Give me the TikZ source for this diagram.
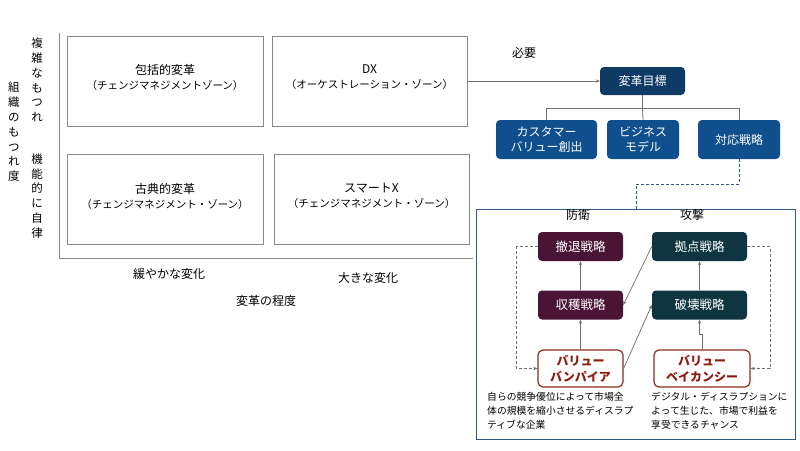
\documentclass[tikz,border=0pt]{standalone}
\usepackage{fontspec}
\setmainfont{Noto Sans CJK JP}
\usetikzlibrary{arrows.meta}
\definecolor{navyG}{HTML}{0D3B66}
\definecolor{blueB}{HTML}{0F4F8E}
\definecolor{maroonB}{HTML}{4A1434}
\definecolor{tealB}{HTML}{0E3540}
\definecolor{redB}{HTML}{8B2A1C}
\definecolor{redT}{HTML}{8E1B10}
\definecolor{panelB}{HTML}{2E5A87}
\definecolor{lineG}{HTML}{8A8A8A}
\definecolor{arrG}{HTML}{6E6E6E}
\newcommand{\zbig}{\fontsize{12}{15}\selectfont}
\begin{document}
\begin{tikzpicture}[x=1pt,y=-1pt,
  zone/.style={draw=lineG,line width=0.8pt,minimum width=196pt,minimum height=90pt,inner sep=0pt},
  ztext/.style={font=\fontsize{10.5}{15}\selectfont,align=center,inner sep=0pt},
  lbl/.style={font=\fontsize{12}{14}\selectfont,inner sep=0pt},
  vlbl/.style={font=\fontsize{11.5}{14.8}\selectfont,align=center,inner sep=0pt},
  goalbox/.style={rounded corners=4pt,fill=navyG,text=white,font=\fontsize{12}{14}\selectfont,align=center,inner sep=0pt,minimum width=85pt,minimum height=28pt},
  subbox/.style={rounded corners=4pt,fill=blueB,text=white,font=\fontsize{12}{15.5}\selectfont,align=center,inner sep=0pt,minimum height=39pt},
  defbox/.style={rounded corners=4pt,fill=maroonB,text=white,font=\fontsize{12.5}{14}\selectfont,inner sep=0pt,minimum width=85pt,minimum height=29pt},
  atkbox/.style={rounded corners=4pt,fill=tealB,text=white,font=\fontsize{12.5}{14}\selectfont,inner sep=0pt,minimum width=95pt,minimum height=29pt},
  valbox/.style={rounded corners=5pt,draw=redB,line width=1.2pt,fill=white,text=redT,font=\bfseries\fontsize{12}{16}\selectfont,align=center,inner sep=0pt,minimum height=37pt},
  desc/.style={font=\fontsize{9.8}{14}\selectfont,align=left,inner sep=0pt,anchor=north west},
  arr/.style={draw=arrG,line width=0.7pt,-{Stealth[length=4pt,width=3.2pt]}},
  darr/.style={draw=arrG,line width=0.7pt,dash pattern=on 3pt off 2pt,-{Stealth[length=4pt,width=3.2pt]}},
  tree/.style={draw=arrG,line width=0.8pt}]
\useasboundingbox (0,0) rectangle (800,450);
% axes
\coordinate (ytop) at (59,33);
\coordinate (orig) at (59,258);
\coordinate (xend) at (473,258);
\draw[lineG,line width=0.8pt] (ytop) -- (orig) -- (xend);
% zones
\node[zone] (b1) at (165,81) {};
\node[zone,minimum width=195pt] (b2) at (369.5,81) {};
\node[zone] (b3) at (165,199.5) {};
\node[zone,minimum width=195pt] (b4) at (371.5,199.5) {};
\node[ztext] (b1t) at (165,77.5) {{\zbig 包括的変革}\\（チェンジマネジメントゾーン）};
\node[ztext] (b2t) at (369.5,77.5) {{\zbig DX}\\（オーケストレーション・ゾーン）};
\node[ztext] (b3t) at (165,196) {{\zbig 古典的変革}\\（チェンジマネジメント・ゾーン）};
\node[ztext] (b4t) at (371.5,196) {{\zbig スマートX}\\（チェンジマネジメント・ゾーン）};
% axis labels
\node[lbl] (xl1) at (169,274) {緩やかな変化};
\node[lbl] (xl2) at (368,278) {大きな変化};
\node[lbl] (xl3) at (266,301) {変革の程度};
\node[vlbl] (yl1) at (37,80) {複\\雑\\な\\も\\つ\\れ};
\node[vlbl] (yl2) at (37,196) {機\\能\\的\\に\\自\\律};
\node[vlbl] (yl3) at (14,132) {組\\織\\の\\も\\つ\\れ\\度};
% right top tree
\node[lbl] (need) at (524,53) {必要};
\node[goalbox] (goal) at (642.5,81) {変革目標};
\node[subbox,minimum width=101pt] (c1) at (546.5,139.5) {カスタマー\\バリュー創出};
\node[subbox,minimum width=72pt] (c2) at (643,139.5) {ビジネス\\モデル};
\node[subbox,minimum width=82pt] (c3) at (739,139.5) {対応戦略};
\draw[arr] (b2.east) -- (goal.west);
\coordinate (tj) at (642.5,108);
\draw[tree] (goal.south) -- (tj);
\draw[tree] (tj) -| (c1.north);
\draw[tree] (tj) -| (c3.north);
\draw[tree] (tj) -- (c2.north);
% panel
\node[draw=panelB,line width=1pt,minimum width=319pt,minimum height=230pt,inner sep=0pt] (panel) at (635.5,324) {};
\coordinate (dk) at (636,184);
\draw[panelB,line width=0.8pt,dash pattern=on 3pt off 2pt] (c3.south) |- (dk) -- (dk |- panel.north);
\node[lbl] (def) at (578,215) {防衛};
\node[lbl] (atk) at (692,215) {攻撃};
\node[defbox] (retr) at (580.5,246.5) {撤退戦略};
\node[defbox] (harv) at (580.5,305) {収穫戦略};
\node[atkbox] (base) at (699.5,246.5) {拠点戦略};
\node[atkbox] (dest) at (699.5,305) {破壊戦略};
\node[valbox,minimum width=85pt] (vamp) at (580.5,368.5) {バリュー\\バンパイア};
\node[valbox,minimum width=96pt] (vac) at (702,368.5) {バリュー\\ベイカンシー};
\draw[arr] (vamp.north) -- (harv.south);
\draw[arr] (harv.north) -- (retr.south);
\draw[arr] (dest.north) -- (base.south);
\draw[arr] (vac.north) -- ++(0,-15) -| (dest.south);
\draw[arr] (base.west) -- (harv.east);
\draw[arr] (vamp.east) -- (dest.west);
\draw[darr] (retr.west) -- ++(-21,0) |- (vamp.west);
\draw[darr] (base.east) -- ++(23,0) |- (vac.east);
\node[desc] (d1) at (487,392) {自らの競争優位によって市場全\\体の規模を縮小させるディスラプ\\ティブな企業};
\node[desc] (d2) at (651,392) {デジタル・ディスラプションに\\よって生じた、市場で利益を\\享受できるチャンス};
\end{tikzpicture}
\end{document}
